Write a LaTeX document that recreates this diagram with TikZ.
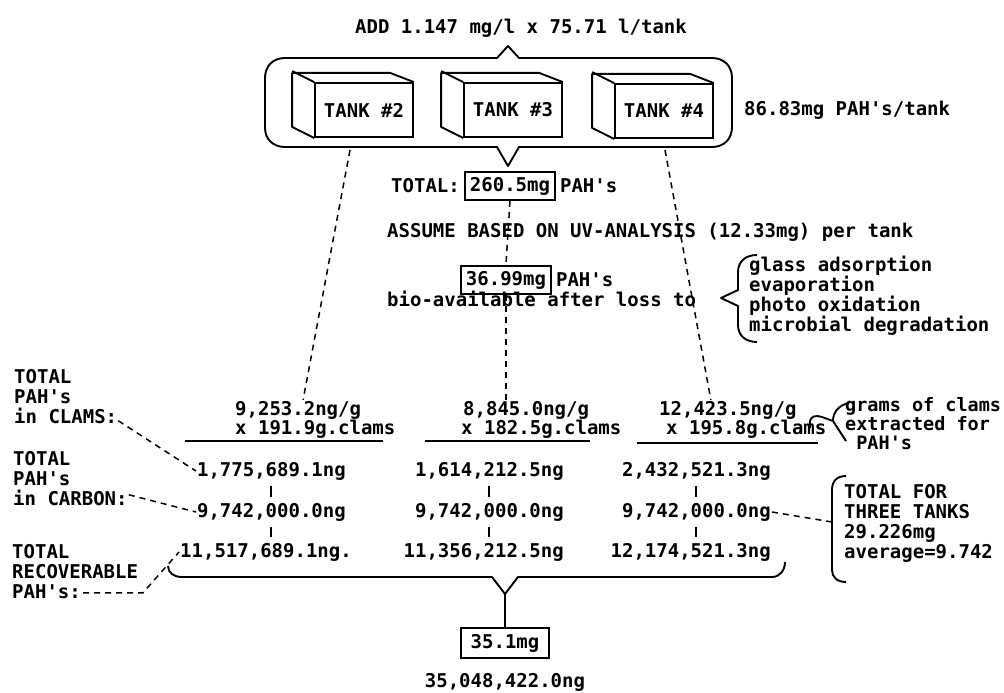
\documentclass[tikz,border=0pt]{standalone}
\usepackage{fontspec}
\setmonofont{DejaVu Sans Mono}
\usetikzlibrary{positioning, calc}
\tikzset{
  plain/.style={font=\ttfamily\bfseries\fontsize{19}{20}\selectfont, inner sep=1pt},
  listtext/.style={plain, align=left, anchor=north west},
  valbox/.style={plain, draw, line width=1.8pt, inner xsep=5pt, inner ysep=5pt},
  tankface/.style={plain, draw, line width=1.8pt, minimum width=98pt, minimum height=54pt},
  link/.style={line width=1.5pt, dash pattern=on 6pt off 5pt},
  stroke/.style={line width=1.9pt, line join=round},
  tick/.style={line width=2pt, shorten <=4.5pt, shorten >=4.5pt},
}

\begin{document}
\begin{tikzpicture}[x=1pt, y=-1pt]
  \useasboundingbox (0,0) rectangle (1004,693);
  \fill[white] (0,0) rectangle (1004,693);

  % Tanks
  \node[plain] (addtext) at (521,28) {ADD 1.147 mg/l x 75.71 l/tank};
  \node[tankface] (tank2) at (364,110) {TANK \#2};
  \node[tankface] (tank3) at (513,110) {TANK \#3};
  \node[tankface] (tank4) at (664,111) {TANK \#4};
  \foreach \tk in {tank2,tank3,tank4}{
    \draw[stroke] (\tk.south west) -- ++(-22,-11) -- ++(0,-54) -- ++(98,0) -- (\tk.north east);
    \draw[stroke] (\tk.north west) -- ++(-22,-11);
  }
  \node[plain, anchor=west] (pertank) at (743,110) {86.83mg PAH's/tank};

  % Frame round the tanks
  \draw[stroke] (265,128) -- (265,78) .. controls (265,66) and (273,58) .. (285,58)
    -- (497,58) -- (508,46) -- (519,58) -- (712,58)
    .. controls (724,58) and (732,66) .. (732,78) -- (732,127)
    .. controls (732,139) and (724,147) .. (712,147) -- (519,147) -- (508,166) -- (497,147)
    -- (285,147) .. controls (273,147) and (265,139) .. (265,128);

  % Totals
  \node[plain, anchor=west] (totlab) at (390,186) {TOTAL:};
  \node[valbox, right=3pt of totlab] (box260) {260.5mg};
  \node[plain, right=3pt of box260] (unit260) {PAH's};
  \node[plain, anchor=west] (assume) at (386,232) {ASSUME BASED ON UV-ANALYSIS (12.33mg) per tank};
  \node[valbox] (box3699) at ($(box260)+(-4,94)$) {36.99mg};
  \node[plain, right=3pt of box3699] (unit3699) {PAH's};
  \node[plain, anchor=west] (bioline) at (386,299) {bio-available after loss to};
  \node[listtext] (losses) at (748,255) {glass adsorption\\evaporation\\photo oxidation\\microbial degradation};
  \draw[stroke] (757,255) .. controls (745,255) and (738,262) .. (738,272) -- (738,290) -- (721,298)
    -- (738,306) -- (738,325) .. controls (738,335) and (745,342) .. (757,342);

  % Concentration x mass
  \node[plain, anchor=west] (concL) at (234,410) {9,253.2ng/g};
  \node[plain, anchor=west] (massL) at (234,429) {x 191.9g.clams};
  \node[plain, anchor=west] (concC) at (462,410) {8,845.0ng/g};
  \node[plain, anchor=west] (massC) at (460,429) {x 182.5g.clams};
  \node[plain, anchor=west] (concR) at (658,410) {12,423.5ng/g};
  \node[plain, anchor=west] (massR) at (665,429) {x 195.8g.clams};
  \draw[stroke] (185,441) -- (383,441);
  \draw[stroke] (425,441) -- (590,441);
  \draw[stroke] (637,443) -- (818,443);

  % Dashed links from the tanks
  \coordinate (lnkL) at (350,150);
  \coordinate (lnkR) at (665,150);
  \draw[link] (lnkL) -- ([xshift=5pt]concL.north);
  \draw[link] (lnkR) -- ([xshift=-17pt]concR.north);
  \draw[link] (box260.south) -- (box3699.north);
  \draw[link] (box3699.south) -- (box3699.south |- concC.north);

  % Grams note
  \node[listtext, font=\ttfamily\bfseries\fontsize{18.5}{19}\selectfont] (gramsnote) at (844,396) {grams of clams\\extracted for\\~PAH's};
  \draw[stroke] (810,428) -- (810,421) .. controls (811,416) and (816,415) .. (822,417) -- (833,421);
  \draw[stroke] (849,403) .. controls (839,405) and (833,412) .. (833,421) -- (846,441);

  % Sums
  \node[plain, anchor=east] (totL1) at (347,471) {1,775,689.1ng};
  \node[plain, anchor=east] (totL2) at (347,512) {9,742,000.0ng};
  \node[plain, anchor=east] (totL3) at (353,552) {11,517,689.1ng.};
  \node[plain, anchor=east] (totC1) at (565,471) {1,614,212.5ng};
  \node[plain, anchor=east] (totC2) at (565,512) {9,742,000.0ng};
  \node[plain, anchor=east] (totC3) at (565,552) {11,356,212.5ng};
  \node[plain, anchor=east] (totR1) at (772,471) {2,432,521.3ng};
  \node[plain, anchor=east] (totR2) at (772,512) {9,742,000.0ng};
  \node[plain, anchor=east] (totR3) at (772,552) {12,174,521.3ng};
  \draw[tick] (totL1.south) -- (totL2.north);
  \draw[tick] (totL2.south) -- (totL2.south |- totL3.north);
  \draw[tick] (totC1.south) -- (totC2.north);
  \draw[tick] (totC2.south) -- (totC2.south |- totC3.north);
  \draw[tick] (totR1.south) -- (totR2.north);
  \draw[tick] (totR2.south) -- (totR2.south |- totR3.north);

  % Row labels
  \node[listtext] (labClams) at (13,368) {TOTAL\\PAH's\\in CLAMS:};
  \node[listtext] (labCarbon) at (12,450) {TOTAL\\PAH's\\in CARBON:};
  \node[listtext] (labRecov) at (11,543) {TOTAL\\RECOVERABLE\\PAH's:};
  \draw[link] ([yshift=4pt]labClams.south east) -- (totL1.west);
  \draw[link] ([yshift=12pt]labCarbon.south east) -- (totL2.west);
  \draw[link] ($(labRecov.south west)+(72,-7)$) -- ++(60,0) -- (totL3.west);

  % Three tank note
  \node[listtext] (threenote) at (843,483) {TOTAL FOR\\THREE TANKS\\29.226mg\\average=9.742};
  \draw[stroke] (846,476) .. controls (837,476) and (832,481) .. (832,490) -- (832,570)
    .. controls (832,577) and (837,582) .. (846,582);
  \coordinate (tipR) at (832,522);
  \draw[link] (totR2.east) -- (tipR);

  % Grand total
  \draw[stroke] (168,566) .. controls (168,573) and (174,577) .. (182,577) -- (492,577)
    -- (505,594) -- (518,577) -- (772,577) .. controls (780,577) and (785,570) .. (785,562);
  \coordinate (vtip) at (505,594);
  \node[valbox, inner xsep=10pt, inner ysep=6pt] (box351) at (505,643) {35.1mg};
  \draw[stroke] (vtip) -- (box351.north);
  \node[plain] (grand) at (505,682) {35,048,422.0ng};
\end{tikzpicture}
\end{document}
